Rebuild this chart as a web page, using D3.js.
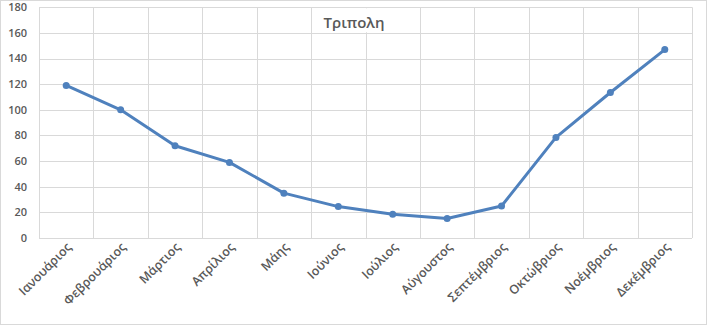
<!DOCTYPE html>
<html><head><meta charset="utf-8">
<script src="https://cdn.jsdelivr.net/npm/d3@7"></script>
<style>body{margin:0;background:#fff}svg{display:block}</style>
</head><body>
<script>
const categories = ["Ιανουάριος","Φεβρουάριος","Μάρτιος","Απρίλιος","Μάης","Ιούνιος","Ιούλιος","Αύγουστος","Σεπτέμβριος","Οκτώβριος","Νοέμβριος","Δεκέμβριος"];
const values = [119, 100, 72, 59, 35, 24.5, 18.5, 15.2, 25, 78.5, 113.5, 147];
const yTicks = [0,20,40,60,80,100,120,140,160,180];
const title = "Τριπολη";

const W = 707, H = 325;
const m = {left: 39, right: 15, top: 7.3, bottom: 87};
const svg = d3.select("body").append("svg").attr("width", W).attr("height", H);
svg.append("rect").attr("x",0.5).attr("y",0.5).attr("width",W-1).attr("height",H-1)
  .attr("fill","#fff").attr("stroke","#d9d9d9");

const x = d3.scaleBand().domain(categories).range([m.left, W - m.right]);
const y = d3.scaleLinear().domain([0,180]).range([H - m.bottom, m.top]);
const font = "'Open Sans', sans-serif";

// horizontal grid
svg.append("g").selectAll("line").data(yTicks).join("line")
  .attr("x1", m.left).attr("x2", W - m.right)
  .attr("y1", d => Math.round(y(d)) + 0.5).attr("y2", d => Math.round(y(d)) + 0.5)
  .attr("stroke", "#d9d9d9");
// vertical grid at category boundaries
const bounds = categories.map(c => x(c)).concat([W - m.right]);
svg.append("g").selectAll("line").data(bounds).join("line")
  .attr("x1", d => Math.round(d) + 0.5).attr("x2", d => Math.round(d) + 0.5)
  .attr("y1", m.top).attr("y2", H - m.bottom)
  .attr("stroke", "#d9d9d9");

// y labels
svg.append("g").selectAll("text").data(yTicks).join("text")
  .attr("x", 27).attr("y", d => y(d)).attr("dy", "0.35em")
  .attr("text-anchor", "end").attr("font-family", font).attr("font-size", 11)
  .attr("font-weight", 600).attr("fill", "#595959").text(d => d);

// x labels
svg.append("g").selectAll("text").data(categories).join("text")
  .attr("transform", d => `translate(${x(d) + x.bandwidth()/2 + 6},${H - m.bottom + 10}) rotate(-45)`)
  .attr("text-anchor", "end").attr("font-family", font).attr("font-size", 12.5)
  .attr("font-weight", 600).attr("fill", "#595959").text(d => d);

// title
svg.append("rect").attr("x", 314).attr("y", m.top + 1).attr("width", 96).attr("height", 24).attr("fill", "#fff");
svg.append("text").attr("x", 354).attr("y", 28).attr("text-anchor", "middle")
  .attr("font-family", font).attr("font-size", 15).attr("font-weight", 600)
  .attr("fill", "#595959").text(title);

// line
const cx = (d, i) => x(categories[i]) + x.bandwidth()/2;
svg.append("path").datum(values)
  .attr("d", d3.line().x(cx).y(d => y(d)))
  .attr("fill", "none").attr("stroke", "#4f81bd").attr("stroke-width", 3).attr("stroke-linejoin", "round");
svg.append("g").selectAll("circle").data(values).join("circle")
  .attr("cx", cx).attr("cy", d => y(d)).attr("r", 3.5).attr("fill", "#4f81bd");
</script>
</body></html>
